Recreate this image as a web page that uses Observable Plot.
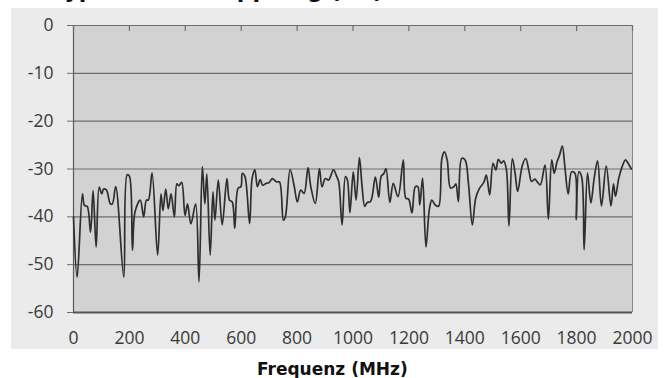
<!DOCTYPE html>
<html><head><meta charset="utf-8">
<script src="https://cdn.jsdelivr.net/npm/d3@7"></script>
<script src="https://cdn.jsdelivr.net/npm/@observablehq/plot@0.6"></script>
<style>
html,body{margin:0;padding:0;background:#fff;overflow:hidden}
#wrap{position:relative;width:669px;height:378px;overflow:hidden;background:#fff}
#panel{position:absolute;left:11px;top:8px;width:647px;height:341px;background:#ebebeb}
#title{position:absolute;left:52px;top:-20px;font:bold 22px/22px "DejaVu Sans";color:#111;white-space:nowrap}
#xlabel{position:absolute;left:257px;top:361px;font:bold 17px/17px "DejaVu Sans";color:#111;white-space:nowrap}
#chart{position:absolute;left:0;top:0}
</style>
</head><body>
<div id="wrap">
  <div id="panel"></div>
  <div id="title">Typische Entkopplung (dB)</div>
  <div id="chart"></div>
  <div id="xlabel">Frequenz (MHz)</div>
</div>
<script>
const freq = [
  0, 13, 32, 39, 49, 61, 70, 81, 92, 101, 108, 118, 132, 139, 151, 180, 192, 200, 211, 220,
  239, 251, 261, 268, 281, 301, 313, 320, 330, 339, 349, 361, 370, 377, 387, 399, 408, 420, 437, 449,
  461, 470, 477, 489, 499, 506, 518, 532, 549, 558, 568, 577, 589, 599, 604, 613, 630, 639, 649, 658,
  668, 677, 689, 699, 711, 718, 727, 737, 751, 758, 775, 789, 801, 813, 825, 839, 849, 865, 880, 889,
  901, 913, 930, 942, 949, 961, 973, 980, 989, 1001, 1011, 1023, 1032, 1042, 1051, 1063, 1080, 1092, 1101, 1111,
  1118, 1132, 1144, 1161, 1180, 1189, 1199, 1211, 1223, 1232, 1239, 1249, 1261, 1273, 1282, 1294, 1306, 1318, 1327, 1337,
  1349, 1361, 1368, 1377, 1389, 1401, 1413, 1427, 1439, 1453, 1468, 1477, 1489, 1501, 1511, 1520, 1530, 1539, 1549, 1558,
  1570, 1580, 1589, 1606, 1618, 1630, 1639, 1651, 1658, 1670, 1687, 1699, 1711, 1720, 1730, 1739, 1749, 1758, 1770, 1782,
  1794, 1799, 1808, 1818, 1827, 1839, 1851, 1863, 1875, 1889, 1906, 1923, 1932, 1939, 1951, 1963, 1975, 1984, 1996
];
const dB = [
  -40, -52.6, -35.2, -37.6, -37.8, -43.2, -34.5, -46.3, -33.8, -35.2, -34.2, -34.4, -37.3, -37.3, -33.7, -52.6, -31.2, -31.5, -47, -39,
  -36.5, -40, -36.5, -36.5, -30.8, -48, -35.2, -38.7, -34.2, -38.3, -35.2, -40, -33.1, -33.5, -32.8, -39.7, -37.3, -41.5, -37.3, -53.6,
  -29.5, -37.3, -31, -48, -34.8, -40.7, -32.3, -41.7, -32, -36.5, -36.9, -42.4, -34, -33.7, -30.9, -31.5, -41.4, -32, -30.2, -33.7,
  -32.2, -33.4, -33, -32.9, -32, -32.3, -32.7, -32.7, -40.7, -40, -30.1, -33.4, -36.9, -34.4, -35.1, -29.7, -33.7, -37.2, -29.9, -33.7,
  -32, -32.3, -30.2, -31.6, -32.7, -41.7, -31.6, -32.3, -39.1, -30.6, -36.5, -27.6, -33.3, -37.8, -37, -36.8, -31.7, -35.9, -31.5, -30.9,
  -29.9, -37, -33, -35.8, -28.1, -36.1, -36.3, -39.2, -33.7, -33.7, -37.5, -31.9, -46.3, -38.5, -36.5, -37.5, -37.8, -27.8, -26.4, -28.1,
  -34, -33.7, -33.1, -36.8, -27.8, -28.1, -33, -41.7, -36.1, -34, -32.8, -31.3, -35.4, -28.8, -30.2, -28, -28.8, -28.3, -30.2, -41.9,
  -27.8, -30.9, -34.7, -29.2, -27.8, -30.6, -32.6, -32.1, -32.6, -33.3, -29.2, -40.5, -28.1, -30.9, -28.5, -27.1, -25.2, -29.5, -35.2, -30.6,
  -30.9, -40.6, -30.6, -31.6, -46.9, -30.8, -37.1, -31.9, -28.3, -37.7, -29.4, -37.7, -33.1, -35.7, -31.9, -29.5, -28.1, -28.8, -30
];
const xTicks = [0, 200, 400, 600, 800, 1000, 1200, 1400, 1600, 1800, 2000];
const yTicks = [0, -10, -20, -30, -40, -50, -60];

const data = freq.map((f, i) => ({f, v: dB[i]}));
const grid = "#6f6f6f";

const chart = Plot.plot({
  width: 669,
  height: 378,
  marginLeft: 73,
  marginRight: 37,
  marginTop: 25,
  marginBottom: 66,
  style: {background: "transparent", fontFamily: "'Open Sans'", fontSize: "17.5px", color: "#3a3a3a"},
  x: {domain: [0, 2000]},
  y: {domain: [-60, 0]},
  marks: [
    Plot.frame({fill: "#d2d2d2"}),
    Plot.gridY(yTicks, {stroke: grid, strokeOpacity: 1, strokeWidth: 1.2}),
    Plot.ruleX([2000], {stroke: "#8a8a8a", strokeWidth: 1}),
    Plot.ruleX([0], {stroke: "#5a5a5a", strokeWidth: 1.2}),
    Plot.ruleY([-60], {stroke: "#555", strokeWidth: 1.8}),
    Plot.tickX(xTicks, {x: d => d, stroke: grid, strokeWidth: 1.2, insetBottom: 281}),
    Plot.line(data, {x: "f", y: "v", curve: "catmull-rom", stroke: "#2e2e2e", strokeWidth: 1.7}),
    Plot.axisY(yTicks, {tickSize: 6, tickPadding: 14, stroke: grid, fill: "#3a3a3a", tickFormat: d => String(d), label: null}),
    Plot.axisX(xTicks, {anchor: "bottom", tickSize: 0, tickPadding: 19, fill: "#3a3a3a", tickFormat: d => String(d), label: null})
  ]
});
document.getElementById("chart").appendChild(chart);
</script>
</body></html>
